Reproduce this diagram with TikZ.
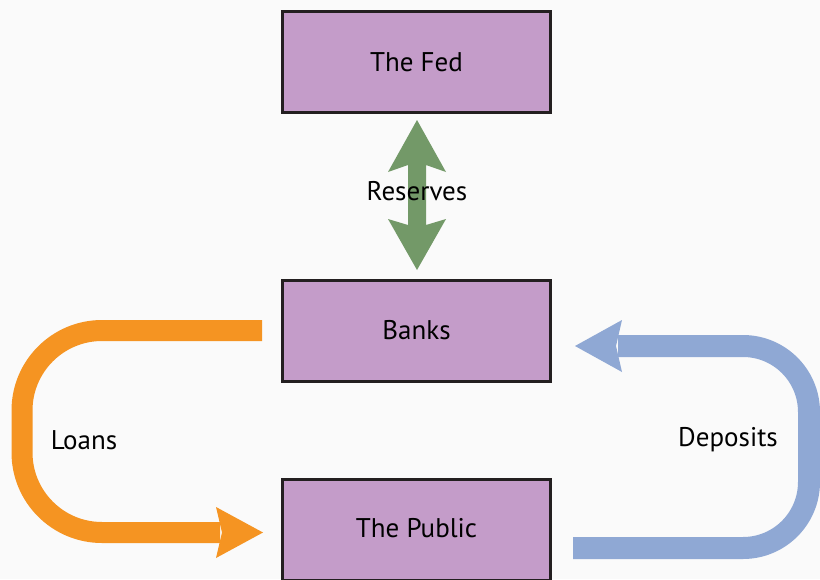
\documentclass[tikz,border=0pt]{standalone}
\usepackage{fontspec}
\setmainfont{PT Sans}
\definecolor{bgc}{RGB}{250,250,250}
\definecolor{boxfill}{RGB}{196,156,201}
\definecolor{boxline}{RGB}{35,31,32}
\definecolor{greenarrow}{RGB}{115,153,104}
\definecolor{orangearrow}{RGB}{245,148,34}
\definecolor{bluearrow}{RGB}{143,168,212}
\tikzset{
  box/.style={draw=boxline, line width=3pt, fill=boxfill, minimum width=268pt, minimum height=101pt, inner sep=0pt, font=\fontsize{27}{32}\selectfont},
  lbl/.style={font=\fontsize{27}{32}\selectfont, text=black, inner sep=0pt},
}
\begin{document}
\begin{tikzpicture}[x=1pt,y=-1pt]
\fill[bgc] (0,0) rectangle (820,579);
\useasboundingbox (0,0) rectangle (820,579);
\begin{scope}
\clip (0,0) rectangle (820,579);
% boxes
\node[box] (fed) at (416.5,62) {The Fed};
\node[box] (banks) at (416.5,330.5) {Banks};
\node[box, anchor=north] (public) at (416.5,477.5) {};
\node[lbl] (publictext) at (416.5,528) {The Public};
% green double arrow
\fill[greenarrow] (417,120) -- (446,172) -- (426,165) -- (426,225) -- (446,219) -- (417,270) -- (388,219) -- (408,225) -- (408,165) -- (388,172) -- cycle;
\node[lbl] (reserves) at (417,191) {Reserves};
% orange arrow (Loans)
\coordinate (oa) at (262,330.5);
\coordinate (ob) at (220,532.5);
\draw[orangearrow, line width=21pt, rounded corners=80pt] (oa) -- (22,330.5) -- (22,532.5) -- (ob);
\fill[orangearrow] (216,507) -- (263,532.5) -- (216,558) -- (222,532.5) -- cycle;
\node[lbl] (loans) at (84,440) {Loans};
% blue arrow (Deposits)
\coordinate (ba) at (573,548);
\coordinate (bb) at (618,346);
\draw[bluearrow, line width=22pt, rounded corners=66pt] (ba) -- (809,548) -- (809,346) -- (bb);
\fill[bluearrow] (622,320) -- (575,346) -- (622,372) -- (616,346) -- cycle;
\node[lbl] (deposits) at (728,440) {Deposits};
\end{scope}
\end{tikzpicture}
\end{document}
